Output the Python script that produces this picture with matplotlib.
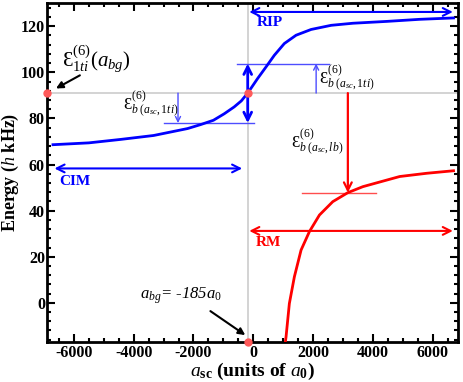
import matplotlib
matplotlib.use("Agg")
import matplotlib.pyplot as plt
from matplotlib.ticker import MultipleLocator

plt.rcParams['font.family'] = ['Liberation Serif', 'DejaVu Serif']
plt.rcParams['mathtext.fontset'] = 'custom'
plt.rcParams['mathtext.rm'] = 'Liberation Serif'
plt.rcParams['mathtext.it'] = 'Liberation Serif:italic'
plt.rcParams['mathtext.bf'] = 'Liberation Serif:bold'
plt.rcParams['axes.unicode_minus'] = False

# blue branch (upper)
blue_x = [-6700, -5500, -4433, -3333, -2200, -1767, -1333, -973, -638, -400, -185,
          145, 425, 705, 1040, 1432, 1936, 2607, 3333, 4467, 5567, 6700]
blue_y = [68.6, 69.4, 70.9, 72.6, 75.6, 77.3, 79.2, 82.0, 85.0, 87.6, 91.0,
          97.3, 102.3, 107.4, 112.5, 116.1, 118.6, 120.4, 121.3, 122.1, 123.0, 123.6]

# red branch (lower)
red_x = [1074, 1097, 1208, 1376, 1600, 1879, 2215, 2661, 3165, 3668, 4171, 4900, 5800, 6700]
red_y = [-17.0, -14.8, -0.3, 11.3, 22.9, 30.9, 38.1, 43.9, 47.8, 50.4, 52.2, 54.8, 56.2, 57.3]

a_bg = -185
e_bg = 91.0
e_low = 78.0
e_high = 103.8
e_red = 47.8

fig = plt.figure(figsize=(4.63, 3.82), dpi=100)
ax = fig.add_axes([47/463, 40/382, 411/463, 339.5/382])

ax.axhline(e_bg, color='#cccccc', lw=1.2, zorder=1)
ax.axvline(a_bg, color='#cccccc', lw=1.2, zorder=1)

ax.plot(blue_x, blue_y, color='#0000ff', lw=2, zorder=3)
ax.plot(red_x, red_y, color='#ff0000', lw=2, zorder=3)

# helper lines
ax.plot([-2987, 34], [e_low, e_low], color='#4d4dff', lw=1)
ax.plot([-547, 2550], [e_high, e_high], color='#4d4dff', lw=1)
ax.plot([1644, 4094], [e_red, e_red], color='#ff4d4d', lw=1)

# thick double arrow at a_bg
ax.annotate('', xy=(a_bg, e_high), xytext=(a_bg, e_bg),
            arrowprops=dict(arrowstyle='->', color='#0000ff', lw=2, mutation_scale=14,
                            shrinkA=0, shrinkB=0))
ax.annotate('', xy=(a_bg, e_low), xytext=(a_bg, e_bg),
            arrowprops=dict(arrowstyle='->', color='#0000ff', lw=2, mutation_scale=14,
                            shrinkA=0, shrinkB=0))

# thin arrows
ax.annotate('', xy=(-2517, e_low), xytext=(-2517, e_bg),
            arrowprops=dict(arrowstyle='->', color='#4d4dff', lw=1, mutation_scale=9,
                            shrinkA=0, shrinkB=0))
ax.annotate('', xy=(2104, e_high), xytext=(2104, e_bg),
            arrowprops=dict(arrowstyle='->', color='#4d4dff', lw=1, mutation_scale=9,
                            shrinkA=0, shrinkB=0))
ax.annotate('', xy=(3165, e_red), xytext=(3165, e_bg),
            arrowprops=dict(arrowstyle='->', color='#ff0000', lw=1.6, mutation_scale=14,
                            shrinkA=0, shrinkB=0))

# region arrows
ax.annotate('', xy=(-6650, 58.3), xytext=(-370, 58.3),
            arrowprops=dict(arrowstyle='<->', color='#0000ff', lw=1.5, mutation_scale=14,
                            shrinkA=0, shrinkB=0))
ax.annotate('', xy=(-134, 126.2), xytext=(6678, 126.2),
            arrowprops=dict(arrowstyle='<->', color='#0000ff', lw=1.5, mutation_scale=14,
                            shrinkA=0, shrinkB=0))
ax.annotate('', xy=(-134, 31.2), xytext=(6678, 31.2),
            arrowprops=dict(arrowstyle='<->', color='#ff0000', lw=1.5, mutation_scale=14,
                            shrinkA=0, shrinkB=0))
ax.text(-5970, 52.6, 'CIM', color='#0000ff', fontsize=11, fontweight='bold', ha='center', va='center')
ax.text(570, 121.7, 'RIP', color='#0000ff', fontsize=11, fontweight='bold', ha='center', va='center')
ax.text(500, 26.0, 'RM', color='#ff0000', fontsize=11, fontweight='bold', ha='center', va='center')

# energy labels
lbl_ti = r'$\mathrm{Ɛ}^{\mathit{(6)}}_{b\;(a_{sc},1ti)}$'
lbl_lb = r'$\mathrm{Ɛ}^{\mathit{(6)}}_{b\;(a_{sc},lb)}$'
ax.text(-3420, 86.1, lbl_ti, fontsize=12, ha='center', va='center')
ax.text(3120, 97.4, lbl_ti, fontsize=12, ha='center', va='center')
ax.text(2150, 69.6, lbl_lb, fontsize=12, ha='center', va='center')
ax.text(-5250, 106, r'$\mathrm{Ɛ}^{\mathit{(6)}}_{1ti}(a_{bg})$', fontsize=15, ha='center', va='center')
ax.text(-2420, 2.9, r'$a_{bg}$= -185$a_0$', fontsize=12, style='italic', ha='center', va='center')

# pointer arrows
ax.annotate('', xy=(-6600, 93), xytext=(-5800, 98.7),
            arrowprops=dict(arrowstyle='-|>', color='black', lw=1.5, mutation_scale=10,
                            shrinkA=0, shrinkB=0))
ax.annotate('', xy=(-267, -14), xytext=(-1433, -3.6),
            arrowprops=dict(arrowstyle='-|>', color='black', lw=1.5, mutation_scale=10,
                            shrinkA=0, shrinkB=0))

# marker dots
ax.plot([a_bg, -6900, a_bg], [e_bg, e_bg, -17], 'o', color='#ff5a5a', ms=5,
        clip_on=False, zorder=5)

ax.set_xlim(-6900, 6850)
ax.set_ylim(-17, 130.3)
ax.xaxis.set_major_locator(MultipleLocator(2000))
ax.xaxis.set_minor_locator(MultipleLocator(500))
ax.yaxis.set_major_locator(MultipleLocator(20))
ax.yaxis.set_minor_locator(MultipleLocator(4))
ax.tick_params(which='both', direction='in', top=True, right=True, width=1.5)
ax.tick_params(which='major', length=6, labelsize=11.5, pad=2)
ax.tick_params(axis='y', which='major', pad=1.5)
ax.tick_params(which='minor', length=3)
for lab in ax.get_xticklabels() + ax.get_yticklabels():
    lab.set_fontweight('bold')
for s in ax.spines.values():
    s.set_linewidth(2)

ax.set_xlabel(r'$a_{\mathbf{sc}}$ (units of $a_{\mathbf{0}}$)', fontsize=14, fontweight='bold', labelpad=0)
ax.set_ylabel(r'Energy ($h$ kHz)', fontsize=13, fontweight='bold', labelpad=0)
ax.yaxis.set_label_coords(-0.064, 0.5)

fig.savefig('out.png', dpi=100)
